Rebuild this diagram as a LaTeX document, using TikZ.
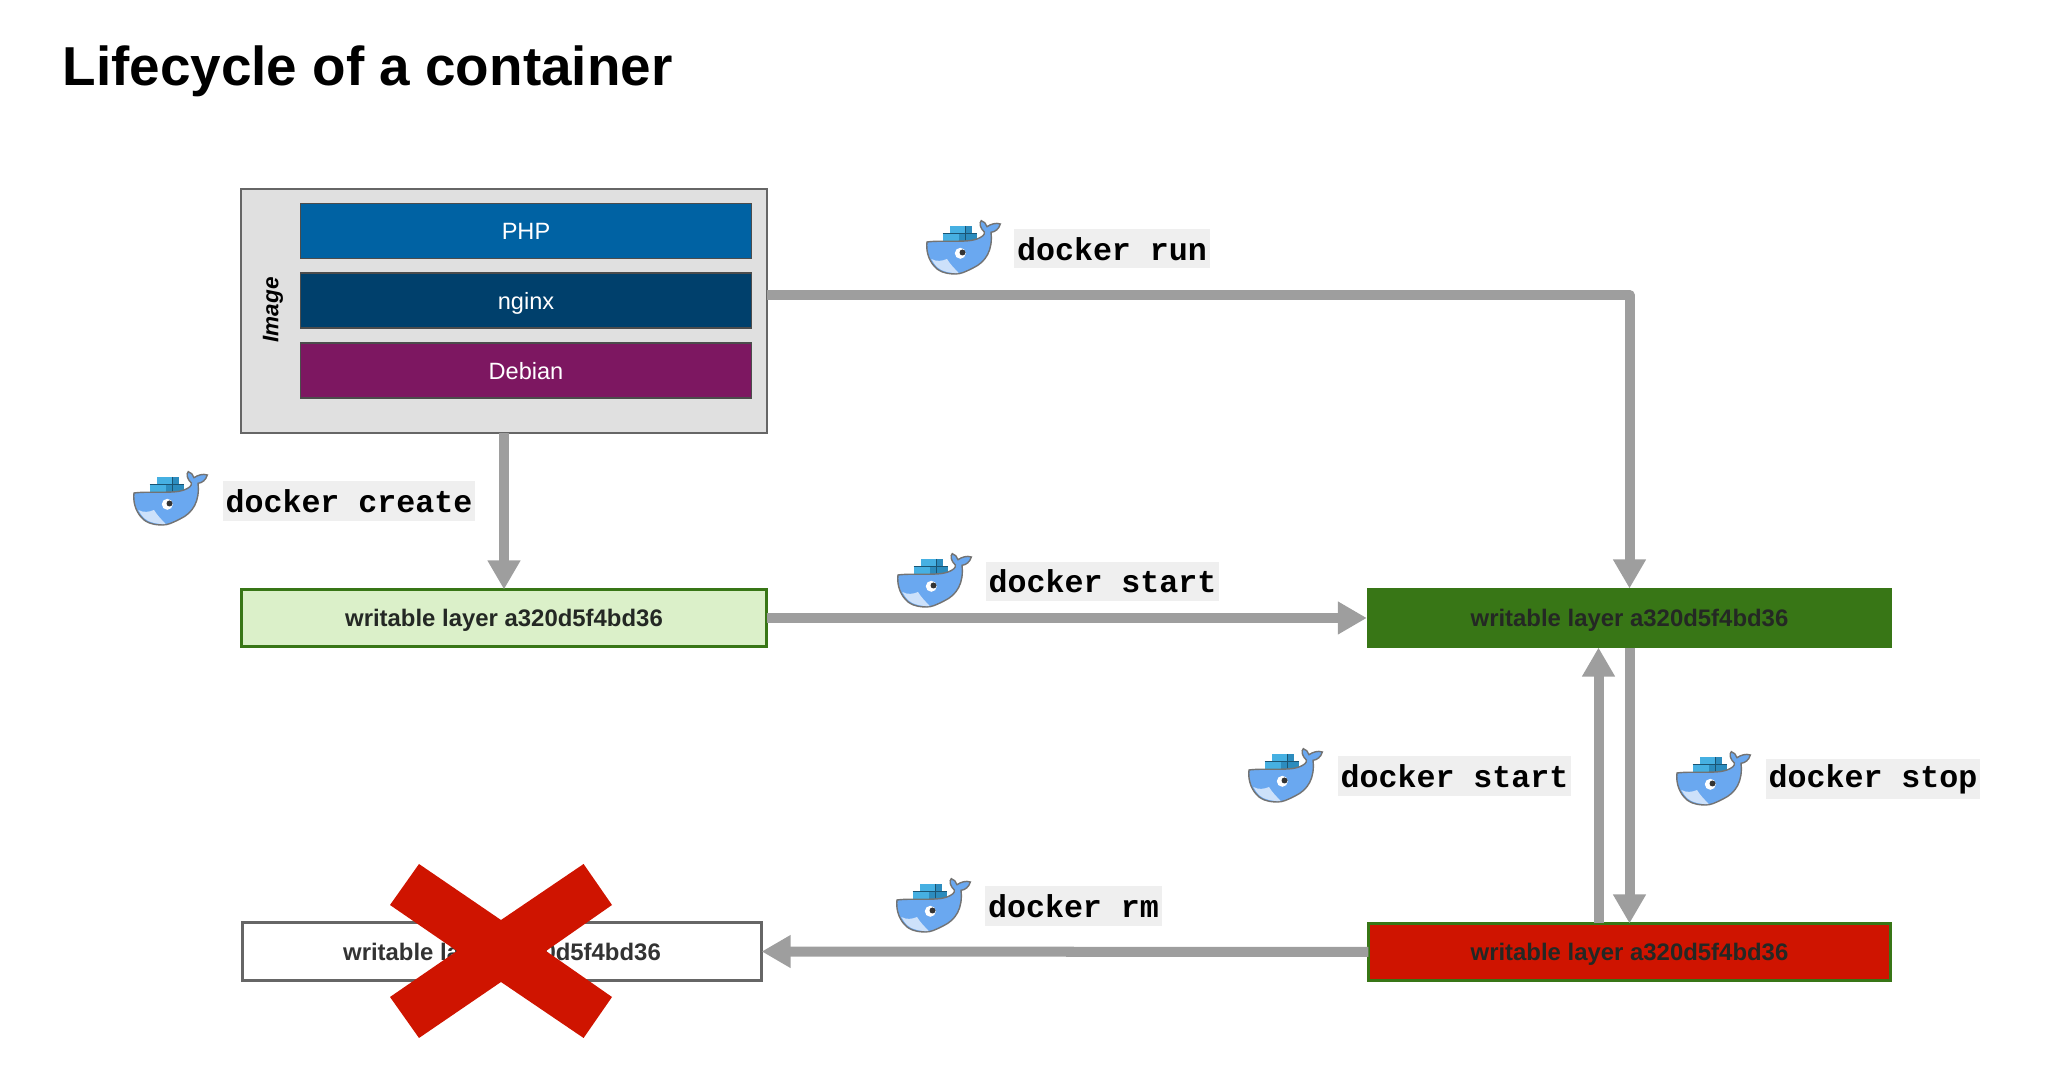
\documentclass[tikz,border=0pt]{standalone}
\usepackage{fontspec}
\setmainfont{Liberation Sans}
\setmonofont{Liberation Mono}
\usepackage{xcolor}
\usetikzlibrary{arrows.meta}
\usetikzlibrary{calc, math}
\definecolor{myblue}{RGB}{0, 98, 163}
\definecolor{mynavy}{RGB}{0, 64, 108}
\definecolor{mypurple}{RGB}{125, 23, 97}
\definecolor{mygray}{RGB}{224, 224, 224}
\definecolor{myarrow}{RGB}{158, 158, 158}
\definecolor{mylight}{RGB}{219, 240, 201}
\definecolor{mygreen}{RGB}{56, 118, 22}
\definecolor{myred}{RGB}{207, 20, 0}
\definecolor{mytext}{RGB}{36, 40, 36}
\definecolor{mylabel}{RGB}{239, 239, 239}
\definecolor{mywhale}{RGB}{106, 168, 240}
\definecolor{mybelly}{RGB}{205, 225, 250}
\definecolor{mycrate}{RGB}{70, 176, 226}
\definecolor{mycrated}{RGB}{44, 140, 190}
\tikzset{
stackbox/.style={minimum width=4.51cm,minimum height=0.55cm,inner sep=0,outer sep=0,draw=black!70,line width=0.4pt,text=white,text depth=0pt,font=\fontsize{6.7pt}{8pt}\selectfont},
layerbox/.style={minimum width=5.25cm,minimum height=0.59cm,inner sep=0,outer sep=0,text=mytext,text depth=0pt,font=\fontsize{6.8pt}{8pt}\selectfont\bfseries},
cmdlabel/.style={fill=mylabel,minimum height=0.39cm,inner xsep=0.03cm,inner ysep=0,font=\fontsize{9pt}{10pt}\selectfont\ttfamily\bfseries},
flowarrow/.style={-{Triangle[length=0.29cm,width=0.31cm]},line width=0.1cm,color=myarrow,line join=round},
whale/.pic={
\fill[mycrate] (-24.3,-14) rectangle (10,-4);
\fill[mycrate] (-16.7,-21) rectangle (5,-14);
\fill[mycrated] (-8,-14) rectangle (10,-4);
\fill[mycrated] (-2,-21) rectangle (5,-14);
\draw[mycrated!60!black,line width=0.2pt] (-2,-21) -- (-2,-4) (-24.3,-14) -- (10,-14);
\draw[fill=mywhale,draw=black!55,line width=0.4pt] (-40,-5) .. controls (-25,-7) and (0,-4) .. (10,-8)
.. controls (15,-10) and (18,-12) .. (17.3,-15) .. controls (13,-19) and (12,-24) .. (14.3,-26.3)
.. controls (17,-26) and (19,-23) .. (20,-20.3) .. controls (24,-23) and (29,-24.5) .. (33.3,-23)
.. controls (32,-18) and (28,-15) .. (24,-14.7) .. controls (26,3) and (19,15) .. (6,21)
.. controls (-2,25) and (-6,27) .. (-11.7,27) .. controls (-22,27) and (-29,24) .. (-33,19)
.. controls (-39,12) and (-41,3) .. (-40,-5) -- cycle;
\fill[mybelly] (-35.7,12) .. controls (-30,15) and (-25,14) .. (-20,12)
.. controls (-17,17) and (-13,21) .. (-8.3,26) .. controls (-17,26.5) and (-26,24) .. (-30,20)
.. controls (-32,18) and (-34,15) .. (-35.7,12) -- cycle;
\fill[white] (-6.7,6.3) circle (0.055cm);
\fill[black!80] (-4.5,5.5) circle (0.03cm);
}
}
\begin{document}
\begin{tikzpicture}[x=0.01cm,y=-0.01cm]
\useasboundingbox (0,0) rectangle (2063,1083);

\node[anchor=base west,inner sep=0,font=\fontsize{15.6pt}{18pt}\selectfont\bfseries] (title) at (62,86) {Lifecycle of a container};

%image
\node[draw=black!60,fill=mygray,line width=0.6pt,minimum width=5.26cm,minimum height=2.44cm,inner sep=0,outer sep=0] (imagebox) at (504,311) {};
\node[stackbox,fill=myblue] (php) at (526,231) {PHP};
\node[stackbox,fill=mynavy] (nginx) at (526,300.5) {nginx};
\node[stackbox,fill=mypurple] (debian) at (526,370.5) {Debian};
\node[rotate=90,inner sep=0,font=\fontsize{6.4pt}{8pt}\selectfont\bfseries\itshape] (imagename) at (273,310) {Image};

%layers
\node[layerbox,fill=mylight,draw=mygreen,line width=0.03cm,minimum width=5.25cm,minimum height=0.57cm] (created) at (504,618) {writable layer a320d5f4bd36};
\node[layerbox,fill=mygreen] (running) at (1629.5,618) {writable layer a320d5f4bd36};
\node[layerbox,fill=myred,draw=mygreen,line width=0.03cm,minimum width=5.22cm,minimum height=0.57cm] (exited) at (1629.5,952) {writable layer a320d5f4bd36};
\node[layerbox,fill=white,draw=black!60,line width=0.03cm,minimum width=5.19cm,minimum height=0.57cm,text=black!80] (removed) at (502,951.5) {writable layer a320d5f4bd36};

%cross
\fill[myred] (419,864) -- (501,920) -- (583.6,864) -- (612,905) -- (546,951) -- (612,997) -- (583.6,1038) -- (501,982) -- (419,1038) -- (390,997) -- (457,951) -- (390,905) -- cycle;

%arrows
\coordinate (runstart) at ($(imagebox.east)+(0,-16)$);
\coordinate (startfoot) at ($(exited.north)+(-31,0)$);
\coordinate (starthead) at ($(running.south)+(-31,0)$);
\draw[flowarrow] (runstart) -| (running.north);
\draw[flowarrow] (imagebox.south) -- (created.north);
\draw[flowarrow] (created.east) -- (running.west);
\draw[flowarrow] (startfoot) -- (starthead);
\draw[flowarrow] (running.south) -- (exited.north);
\draw[flowarrow] (exited.west) -- (removed.east);

%commands
\pic at (967,247) {whale};
\node[cmdlabel] (runlabel) at (1112,249) {docker run};
\pic at (174,498) {whale};
\node[cmdlabel] (createlabel) at (349,501) {docker create};
\pic at (938,580) {whale};
\node[cmdlabel] (startlabel) at (1102.5,581.5) {docker start};
\pic at (1289,775) {whale};
\node[cmdlabel] (restartlabel) at (1454.5,776) {docker start};
\pic at (1717,778) {whale};
\node[cmdlabel] (stoplabel) at (1873,779) {docker stop};
\pic at (937,905) {whale};
\node[cmdlabel] (rmlabel) at (1073.5,906) {docker rm};
\end{tikzpicture}
\end{document}
